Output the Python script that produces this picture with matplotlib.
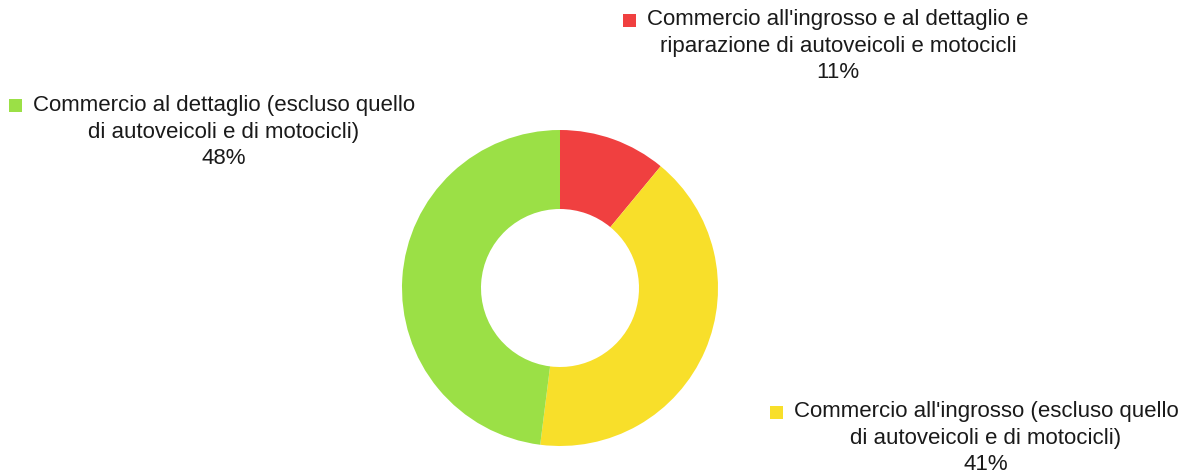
import matplotlib
matplotlib.use("Agg")
import matplotlib.pyplot as plt
from matplotlib.patches import Rectangle

# Settori del commercio: quote percentuali
categories = [
    "Commercio all'ingrosso e al dettaglio e\nriparazione di autoveicoli e motocicli",
    "Commercio all'ingrosso (escluso quello\ndi autoveicoli e di motocicli)",
    "Commercio al dettaglio (escluso quello\ndi autoveicoli e di motocicli)",
]
shares = [11, 41, 48]
colors = ["#F04040", "#F8DF2A", "#9BE046"]

W, H = 1184, 474
plt.rcParams["font.family"] = ["Liberation Sans", "DejaVu Sans"]
fig = plt.figure(figsize=(W / 100, H / 100), dpi=100)

# Ring placement in pixels
cx, cy, r = 560, 288, 158
ax = fig.add_axes([(cx - r) / W, (H - cy - r) / H, 2 * r / W, 2 * r / H])
ax.pie(shares, colors=colors, startangle=90, counterclock=False,
       radius=1.0, wedgeprops=dict(width=0.5, linewidth=0))
ax.set_xlim(-1, 1)
ax.set_ylim(-1, 1)
ax.set_aspect("equal")
ax.axis("off")

# Label blocks: text centre x, first-line y (pixels from top)
label_pos = [(838, 20), (986, 412), (224, 106)]
line_gap = 26.5
fs = 16

fig.canvas.draw()
renderer = fig.canvas.get_renderer()
for cat, val, col, (tx, ty) in zip(categories, shares, colors, label_pos):
    lines = cat.split("\n") + [f"{val}%"]
    texts = []
    for i, line in enumerate(lines):
        texts.append(fig.text(tx / W, 1 - (ty + i * line_gap) / H, line,
                              ha="center", va="center", fontsize=fs,
                              color="#1a1a1a"))
    # legend marker left of the first line
    bb = texts[0].get_window_extent(renderer=renderer)
    sq = 13
    fig.patches.append(Rectangle(((bb.x0 - 11 - sq) / W, 1 - (ty + sq / 2) / H),
                                 sq / W, sq / H, transform=fig.transFigure,
                                 facecolor=col, edgecolor="none"))

fig.savefig("out.png", dpi=100)
